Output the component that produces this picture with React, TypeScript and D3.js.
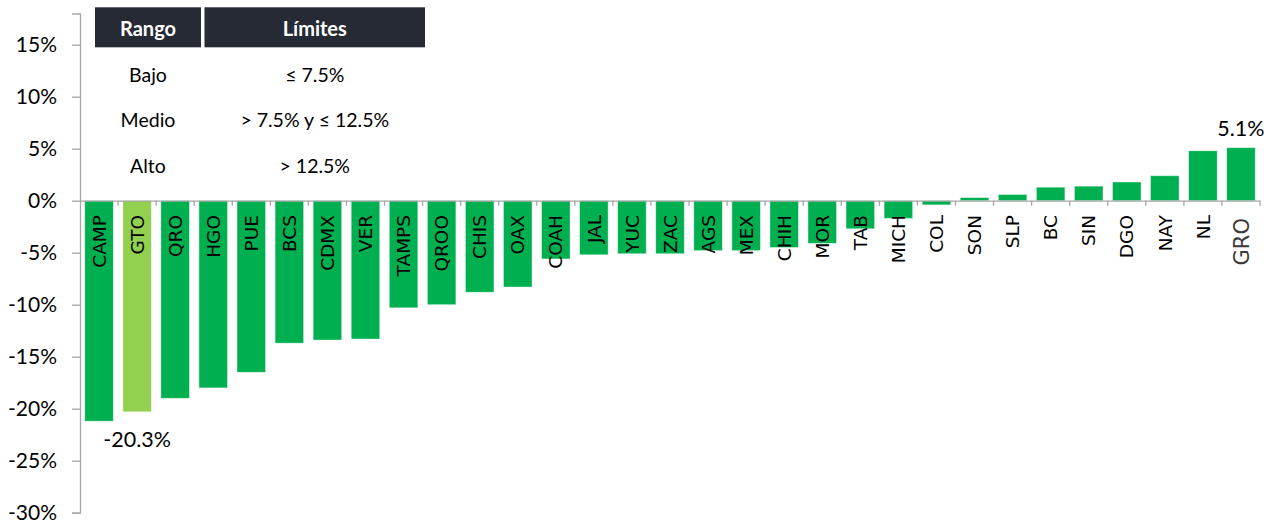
import React, { useRef, useEffect } from 'react';
import * as d3 from 'd3';

// estados ordenados de menor a mayor variación
const estados = [
  'CAMP', 'GTO', 'QRO', 'HGO', 'PUE', 'BCS', 'CDMX', 'VER', 'TAMPS', 'QROO',
  'CHIS', 'OAX', 'COAH', 'JAL', 'YUC', 'ZAC', 'AGS', 'MEX', 'CHIH', 'MOR',
  'TAB', 'MICH', 'COL', 'SON', 'SLP', 'BC', 'SIN', 'DGO', 'NAY', 'NL', 'GRO',
];
const variacion = [
  -21.2, -20.3, -19.0, -18.0, -16.5, -13.7, -13.4, -13.3, -10.3, -10.0,
  -8.8, -8.3, -5.6, -5.2, -5.1, -5.1, -4.8, -4.8, -4.5, -4.1,
  -2.7, -1.7, -0.4, 0.3, 0.6, 1.3, 1.4, 1.8, 2.4, 4.8, 5.1,
];
const yTicks = [-30, -25, -20, -15, -10, -5, 0, 5, 10, 15];
const destacado = 'GTO';
const etiquetados = ['GTO', 'GRO'];

const rangos = ['Bajo', 'Medio', 'Alto'];
const limites = ['≤ 7.5%', '> 7.5% y ≤ 12.5%', '> 12.5%'];
const encabezados = ['Rango', 'Límites'];

function BarChart() {
  const svgRef = useRef<SVGSVGElement>(null);

  useEffect(() => {
    const svg = d3.select(svgRef.current);
    svg.selectAll('*').remove();

    const width = 1273;
    const height = 521;
    const axisX = 80;
    const plotRight = 1260;

    const data = estados.map((e, i) => ({ estado: e, valor: variacion[i] }));

    const x = d3.scaleBand()
      .domain(estados)
      .range([axisX, plotRight])
      .paddingInner(0.25)
      .paddingOuter(0.125);

    const y = d3.scaleLinear()
      .domain([-30, 18])
      .range([512.7, 13.5]);

    const sans = 'Lato, "Open Sans", sans-serif';

    // Bars
    svg.append('g')
      .selectAll('rect')
      .data(data)
      .enter().append('rect')
      .attr('x', d => x(d.estado))
      .attr('width', x.bandwidth())
      .attr('y', d => y(Math.max(0, d.valor)))
      .attr('height', d => Math.abs(y(d.valor) - y(0)))
      .attr('fill', d => d.estado === destacado ? '#92D050' : '#00B050')
      .attr('stroke', '#ffffff')
      .attr('stroke-opacity', 0.5)
      .attr('stroke-width', 0.8);

    // Y axis
    const yAxis = svg.append('g')
      .attr('transform', `translate(${axisX},0)`)
      .call(d3.axisLeft(y).tickValues(yTicks).tickSize(8).tickPadding(15).tickFormat(d => `${d}%`));
    yAxis.select('.domain').attr('stroke', '#a6a6a6').attr('stroke-width', 1.3);
    yAxis.selectAll('.tick line').attr('stroke', '#a6a6a6').attr('stroke-width', 1.3);
    yAxis.selectAll('.tick text')
      .attr('fill', '#000')
      .attr('dy', '0.34em')
      .style('font-family', sans)
      .style('font-size', '21px');

    // Zero line with category ticks
    const xAxis = svg.append('g')
      .attr('transform', `translate(0,${y(0)})`)
      .call(d3.axisBottom(x).tickSize(0).tickFormat(() => ''));
    xAxis.select('.domain').attr('stroke', '#a6a6a6').attr('stroke-width', 1.3);
    xAxis.selectAll('.tick').remove();
    const step = x.step();
    const bounds = d3.range(estados.length + 1).map(i => axisX + i * step);
    xAxis.selectAll('line.sep')
      .data(bounds.slice(1))
      .enter().append('line')
      .attr('class', 'sep')
      .attr('x1', d => d).attr('x2', d => d)
      .attr('y1', 0).attr('y2', 5)
      .attr('stroke', '#a6a6a6')
      .attr('stroke-width', 1.3);

    // Category labels (rotated)
    svg.append('g')
      .selectAll('text')
      .data(data)
      .enter().append('text')
      .attr('transform', d => {
        const cx = x(d.estado) + x.bandwidth() / 2;
        return `translate(${cx},${d.estado === 'GRO' ? 218 : 215}) rotate(-90)`;
      })
      .attr('dy', '0.36em')
      .attr('text-anchor', 'end')
      .attr('fill', d => d.estado === 'GRO' ? '#3a3a3a' : '#000')
      .style('font-family', '"DejaVu Sans", sans-serif')
      .style('font-size', d => d.estado === 'GRO' ? '21px' : '18.5px')
      .text(d => d.estado);

    // Value labels
    svg.append('g')
      .selectAll('text')
      .data(data.filter(d => etiquetados.includes(d.estado)))
      .enter().append('text')
      .attr('x', d => x(d.estado) + x.bandwidth() / 2)
      .attr('y', d => d.valor < 0 ? y(d.valor) + 28 : y(d.valor) - 19)
      .attr('dy', '0.35em')
      .attr('text-anchor', 'middle')
      .attr('fill', '#000')
      .style('font-family', sans)
      .style('font-size', '21.5px')
      .text(d => `${d.valor.toFixed(1)}%`);

    // Range table
    const cols = d3.scaleOrdinal<string, number[]>()
      .domain(encabezados)
      .range([[95, 201], [204.5, 425]]);
    const rowY = d3.scalePoint()
      .domain(rangos)
      .range([75, 165.7]);
    const table = svg.append('g');
    encabezados.forEach(h => {
      const [a, b] = cols(h);
      table.append('rect')
        .attr('x', a).attr('y', 7.3)
        .attr('width', b - a).attr('height', 40)
        .attr('fill', '#252A35');
      table.append('text')
        .attr('x', (a + b) / 2).attr('y', 29)
        .attr('dy', '0.35em')
        .attr('text-anchor', 'middle')
        .attr('fill', '#fff')
        .style('font-family', sans)
        .style('font-weight', 700)
        .style('font-size', '20px')
        .text(h);
    });
    rangos.forEach((r, i) => {
      [r, limites[i]].forEach((t, j) => {
        const [a, b] = cols(encabezados[j]);
        table.append('text')
          .attr('x', (a + b) / 2).attr('y', rowY(r))
          .attr('dy', '0.35em')
          .attr('text-anchor', 'middle')
          .attr('fill', '#000')
          .style('font-family', sans)
          .style('font-size', '19.5px')
          .text(t);
      });
    });

    svg.attr('width', width).attr('height', height);
  }, []);

  return <svg ref={svgRef} width={1273} height={521} style={{ display: 'block' }}></svg>;
}

export default function App() {
  return (
    <div style={{ width: 1273, height: 521, background: '#fff' }}>
      <style>{'body{margin:0;}'}</style>
      <BarChart />
    </div>
  );
}
